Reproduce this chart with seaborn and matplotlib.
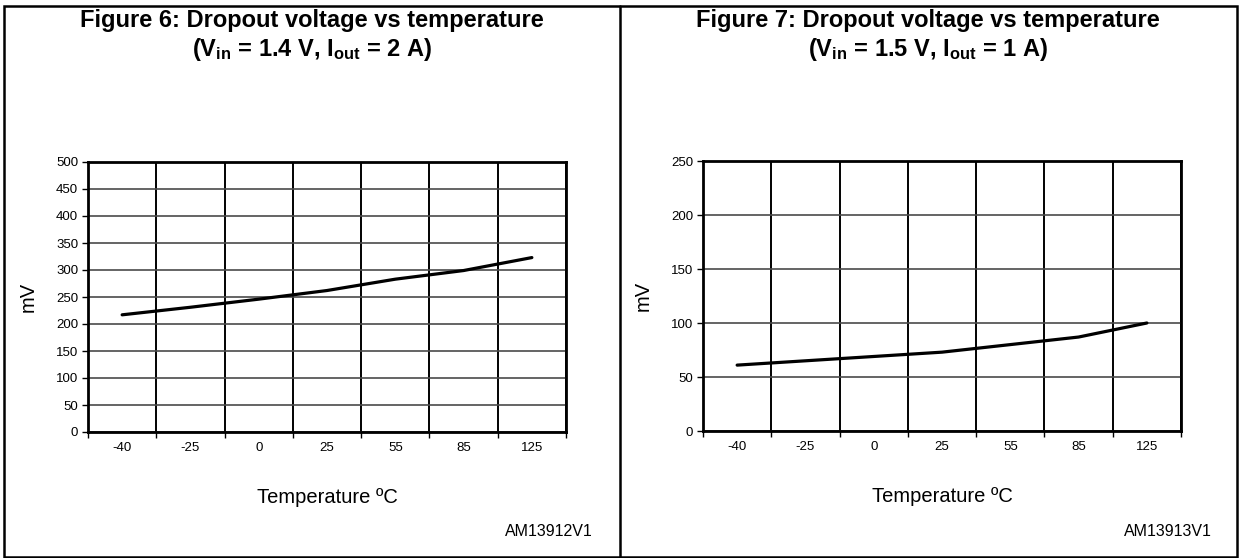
import matplotlib
matplotlib.use("Agg")
import matplotlib.pyplot as plt
import seaborn as sns
import numpy as np
import pandas as pd
from matplotlib.patches import Rectangle
from matplotlib.lines import Line2D

# ---- data ----
temps = ["-40", "-25", "0", "25", "55", "85", "125"]
dropout_fig6 = [217, 231, 246, 262, 283, 299, 323]
dropout_fig7 = [61, 65, 69, 73, 80, 87, 100]
titles_line1 = ["Figure 6: Dropout voltage vs temperature",
                "Figure 7: Dropout voltage vs temperature"]
titles_line2 = [r"(V$_\mathbf{in}$ = 1.4 V, I$_\mathbf{out}$ = 2 A)",
                r"(V$_\mathbf{in}$ = 1.5 V, I$_\mathbf{out}$ = 1 A)"]
codes = ["AM13912V1", "AM13913V1"]
y_limits = [500, 250]
y_steps = [50, 50]
xlabel = "Temperature ºC"
ylabel = "mV"

sns.set_theme(style="white")
plt.rcParams["font.family"] = ["Liberation Sans", "DejaVu Sans"]
plt.rcParams["mathtext.fontset"] = "custom"
plt.rcParams["mathtext.rm"] = "Liberation Sans"
plt.rcParams["mathtext.bf"] = "Liberation Sans:bold"
plt.rcParams["mathtext.it"] = "Liberation Sans:italic"

W, H = 1240, 558
fig = plt.figure(figsize=(W / 100, H / 100), dpi=100)

def fx(px):
    return px / W

def fy(py):
    return 1 - py / H

# outer frames
fig.add_artist(Rectangle((fx(4), fy(557)), fx(1237) - fx(4), fy(6) - fy(557),
                         transform=fig.transFigure, fill=False, ec="black", lw=1.8))
fig.add_artist(Line2D([fx(620), fx(620)], [fy(557), fy(6)], transform=fig.transFigure,
                      color="black", lw=1.8))

panels = [
    dict(left=88, right=566, top=162, bottom=432, cx=312, code_x=593),
    dict(left=703, right=1181, top=161, bottom=431, cx=928, code_x=1212),
]
series = [dropout_fig6, dropout_fig7]

for i, p in enumerate(panels):
    ax = fig.add_axes([fx(p["left"]), fy(p["bottom"]),
                       fx(p["right"]) - fx(p["left"]), fy(p["top"]) - fy(p["bottom"])])
    df = pd.DataFrame({"Temperature": temps, "mV": series[i]})
    sns.lineplot(data=df, x="Temperature", y="mV", ax=ax, color="black",
                 lw=2.3, sort=False)
    ax.set_xlim(-0.5, len(temps) - 0.5)
    ax.set_ylim(0, y_limits[i])
    ax.set_yticks(np.arange(0, y_limits[i] + 1, y_steps[i]))
    ax.set_xticks(range(len(temps)))
    ax.set_xticklabels(temps)
    ax.set_xticks(np.arange(-0.5, len(temps), 1.0), minor=True)
    ax.tick_params(axis="x", which="major", length=0, pad=7, labelsize=9.5, colors="black")
    ax.tick_params(axis="x", which="minor", length=4, width=1, direction="out",
                   bottom=True, color="black")
    ax.tick_params(axis="y", which="major", length=4, width=1, direction="out",
                   left=True, pad=3, labelsize=9.5, colors="black")
    ax.xaxis.grid(True, which="minor", color="black", lw=1.4)
    ax.yaxis.grid(True, which="major", color="#4a4a4a", lw=1.2)
    ax.set_axisbelow(True)
    for s in ax.spines.values():
        s.set_visible(True)
        s.set_color("black")
        s.set_linewidth(2.0)
    ax.set_xlabel(xlabel, fontsize=14.5, color="black")
    ax.set_ylabel(ylabel, fontsize=14.5, color="black")
    ax.xaxis.label.set_verticalalignment("center")
    ax.xaxis.set_label_coords(0.5, -0.244)
    ax.yaxis.set_label_coords(-0.105, 0.5)

    fig.text(fx(p["cx"]), fy(27), titles_line1[i], ha="center", va="baseline",
             fontsize=17, fontweight="bold", color="black")
    fig.text(fx(p["cx"]), fy(56), titles_line2[i], ha="center", va="baseline",
             fontsize=17, fontweight="bold", color="black")
    fig.text(fx(p["code_x"]), fy(532), codes[i], ha="right", va="center",
             fontsize=11.5, color="black")

fig.savefig("out.png", dpi=100)
